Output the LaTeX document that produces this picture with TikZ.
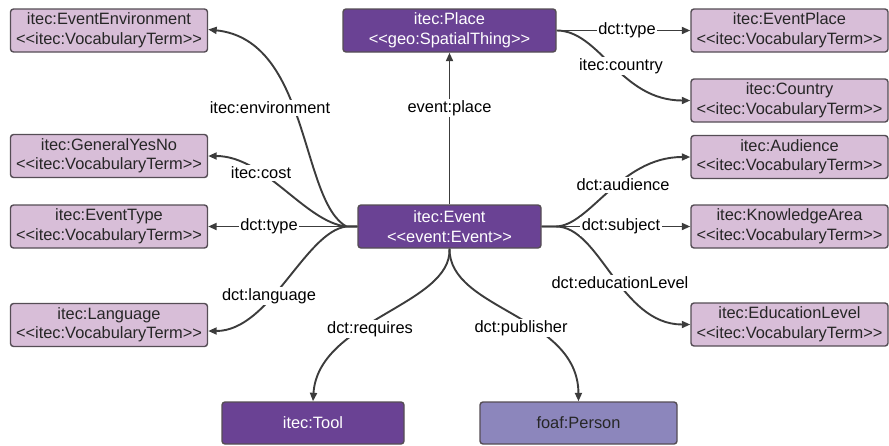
\documentclass[tikz,border=0pt]{standalone}
\usepackage{fontspec}
\setmainfont{Liberation Sans}
\usetikzlibrary{arrows.meta}

\definecolor{darkvio}{HTML}{6A4294}
\definecolor{lilac}{HTML}{D8BED8}
\definecolor{personvio}{HTML}{8C86BC}
\definecolor{boxline}{HTML}{554D55}
\definecolor{linegray}{HTML}{3C3C3C}

\begin{document}
\begin{tikzpicture}[x=1pt,y=-1pt,
  box/.style={draw=boxline, line width=1.4pt, rounded corners=3pt,
    minimum height=43pt, inner sep=0pt, align=center,
    font=\fontsize{16.4}{19.5}\selectfont},
  term/.style={box, fill=lilac, text=black!85, minimum width=197pt},
  cls/.style={box, fill=darkvio, text=white},
  rel/.style={draw=linegray, line width=1.9pt,
    -{Triangle[length=8.5pt,width=7pt]}},
  lbl/.style={fill=white, inner sep=1.5pt, font=\fontsize{16.4}{19.5}\selectfont}]

\path[use as bounding box] (0,0) rectangle (889,445);

% vocabulary terms, left column
\node[term] (env)   at (109,30.5)  {itec:EventEnvironment\\<{}<itec:VocabularyTerm>{}>};
\node[term] (gyn)   at (109,156)   {itec:GeneralYesNo\\<{}<itec:VocabularyTerm>{}>};
\node[term] (etype) at (109,226.5) {itec:EventType\\<{}<itec:VocabularyTerm>{}>};
\node[term] (lang)  at (109,325)   {itec:Language\\<{}<itec:VocabularyTerm>{}>};

% vocabulary terms, right column
\node[term] (eplace)  at (789.5,30.5)  {itec:EventPlace\\<{}<itec:VocabularyTerm>{}>};
\node[term] (country) at (789.5,100.5) {itec:Country\\<{}<itec:VocabularyTerm>{}>};
\node[term] (aud)     at (789.5,157)   {itec:Audience\\<{}<itec:VocabularyTerm>{}>};
\node[term] (know)    at (789.5,226.5) {itec:KnowledgeArea\\<{}<itec:VocabularyTerm>{}>};
\node[term] (edu)     at (789.5,324.5) {itec:EducationLevel\\<{}<itec:VocabularyTerm>{}>};

% classes
\node[cls, minimum width=213pt] (place) at (449.5,30.5) {itec:Place\\<{}<geo:SpatialThing>{}>};
\node[cls, minimum width=183pt] (ev)    at (449.5,226.5) {itec:Event\\<{}<event:Event>{}>};
\node[cls, minimum width=182pt, minimum height=42pt] (tool) at (313,423) {itec:Tool};
\node[box, fill=personvio, text=black!85, minimum width=197pt, minimum height=42pt] (person) at (578.5,423) {foaf:Person};

% junction points where the connectors fan out
\coordinate (hl) at ([xshift=-11pt]ev.west);
\coordinate (hr) at ([xshift=14pt]ev.east);

% connectors from the event, left side
\draw[rel] (ev.west) -- (hl) .. controls (300,200) and (310,40) .. ([yshift=1pt]env.east);
\draw[rel] (ev.west) -- (hl) .. controls (305,222) and (265,156) .. (gyn.east);
\draw[rel] (ev.west) -- (etype.east);
\draw[rel] (ev.west) -- (hl) .. controls (305,232) and (270,331) .. ([yshift=-6pt]lang.east);

% connectors from the event, right side
\draw[rel] (ev.east) -- (hr) .. controls (590,226) and (620,157) .. (aud.west);
\draw[rel] (ev.east) -- (know.west);
\draw[rel] (ev.east) -- (hr) .. controls (600,226) and (620,324.5) .. (edu.west);

% connectors from the event, up and down
\draw[rel] (ev.north) -- (place.south);
\draw[rel] (ev.south) .. controls (452,305) and (318,320) .. (tool.north);
\draw[rel] (ev.south) .. controls (449,310) and (578,315) .. (person.north);

% connectors from the place
\draw[rel] (place.east) -- (eplace.west);
\draw[rel] (place.east) .. controls (600,30.5) and (620,100.5) .. (country.west);

% property labels
\node[lbl] (lenv)   at (270,108) {itec:environment};
\node[lbl] (lcost)  at (261,173) {itec:cost};
\node[lbl] (ltypel) at (269,226.5) {dct:type};
\node[lbl] (llang)  at (269,296) {dct:language};
\node[lbl] (lplace) at (449.5,108) {event:place};
\node[lbl] (lreq)   at (370,329) {dct:requires};
\node[lbl] (lpub)   at (521,328) {dct:publisher};
\node[lbl] (laud)   at (623,185) {dct:audience};
\node[lbl] (lsubj)  at (621,226.5) {dct:subject};
\node[lbl] (ledu)   at (620,283) {dct:educationLevel};
\node[lbl] (ltyper) at (627,30.5) {dct:type};
\node[lbl] (lctry)  at (621,66) {itec:country};

\end{tikzpicture}
\end{document}
